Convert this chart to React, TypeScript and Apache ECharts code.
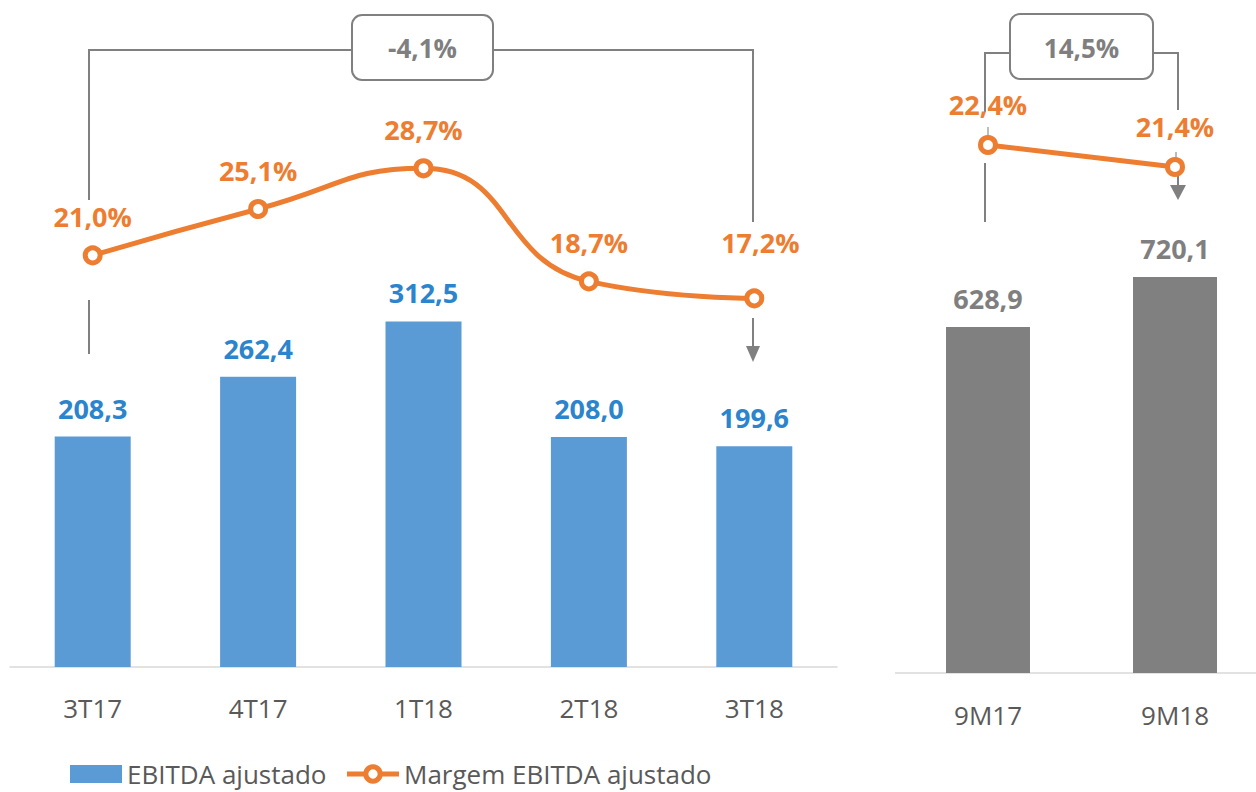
import React, { useEffect, useRef } from "react";
import * as echarts from "echarts";

const quarters = ["3T17", "4T17", "1T18", "2T18", "3T18"];
const ebitdaQ = [208.3, 262.4, 312.5, 208.0, 199.6];
const marginQ = [21.0, 25.1, 28.7, 18.7, 17.2];

const periods = ["9M17", "9M18"];
const ebitdaP = [628.9, 720.1];
const marginP = [22.4, 21.4];

const changeQ = "-4,1%";
const changeP = "14,5%";

const FONT = "'Open Sans', 'Noto Sans', sans-serif";
const BLUE = "#5B9BD5";
const BLUE_TXT = "#2B84CC";
const ORANGE = "#ED7D31";
const GRAY = "#808080";
const GRAY_TXT = "#7F7F7F";
const AXIS_TXT = "#595959";
const AXIS_LINE = "#D9D9D9";

const fmt = (v: number) => v.toFixed(1).replace(".", ",");

export default function App() {
  const ref = useRef<HTMLDivElement>(null);
  useEffect(() => {
    if (!ref.current) return;
    const chart = echarts.init(ref.current, undefined, { renderer: "svg" });

    const lineStroke = { stroke: GRAY, lineWidth: 2 };
    const boxText = (x: number, y: number, t: string) => ({
      type: "text",
      x,
      y,
      style: {
        text: t,
        fill: GRAY_TXT,
        font: `bold 26px ${FONT}`,
        textAlign: "center",
        textVerticalAlign: "middle",
      },
      z: 20,
    });

    const marginItems = marginQ.map((v, i) =>
      i === marginQ.length - 1
        ? { value: v, label: { distance: 32, offset: [6, 0] } }
        : v
    );

    const barLabel = (color: string) => ({
      show: true,
      position: "top",
      distance: 15,
      color,
      fontWeight: "bold",
      fontSize: 27,
      fontFamily: FONT,
      formatter: (p: any) => fmt(p.value),
    });
    const pctLabel = (distance: number) => ({
      show: true,
      position: "top",
      distance,
      color: ORANGE,
      fontWeight: "bold",
      fontSize: 27,
      fontFamily: FONT,
      formatter: (p: any) => fmt(Number(p.value)) + "%",
    });

    chart.setOption({
      animation: false,
      textStyle: { fontFamily: FONT },
      grid: [
        { left: 10, width: 827, top: 114, height: 553 },
        { left: 988, right: 81, top: 123, height: 550 },
      ],
      xAxis: [
        {
          type: "category",
          gridIndex: 0,
          data: quarters,
          axisLine: { lineStyle: { color: AXIS_LINE, width: 1.5 } },
          axisTick: { show: false },
          axisLabel: { color: AXIS_TXT, fontSize: 26, margin: 28, fontFamily: FONT },
        },
        {
          type: "category",
          gridIndex: 1,
          data: periods,
          boundaryGap: false,
          axisLine: { show: false },
          axisTick: { show: false },
          axisLabel: { color: AXIS_TXT, fontSize: 26, margin: 29, fontFamily: FONT },
        },
      ],
      yAxis: [
        { type: "value", gridIndex: 0, min: 0, max: 500, show: false, splitLine: { show: false } },
        { type: "value", gridIndex: 0, min: -15.4, max: 33.5, show: false, splitLine: { show: false } },
        { type: "value", gridIndex: 1, min: 0, max: 1000, show: false, splitLine: { show: false } },
        { type: "value", gridIndex: 1, min: -1.6, max: 23.4, show: false, splitLine: { show: false } },
      ],
      legend: {
        left: 70,
        top: 761,
        padding: 0,
        itemWidth: 52,
        itemHeight: 18,
        itemGap: 18,
        data: [
          { name: "EBITDA ajustado", icon: "rect" },
          {
            name: "Margem EBITDA ajustado",
            itemStyle: { color: "#FFFFFF", borderColor: ORANGE, borderWidth: 5 },
            lineStyle: { color: ORANGE, width: 5 },
          },
        ],
        textStyle: { color: AXIS_TXT, fontSize: 26, lineHeight: 26, fontFamily: FONT },
      },
      series: [
        {
          name: "EBITDA ajustado",
          type: "bar",
          xAxisIndex: 0,
          yAxisIndex: 0,
          data: ebitdaQ,
          barWidth: 76,
          itemStyle: { color: BLUE },
          label: barLabel(BLUE_TXT),
        },
        {
          name: "Margem EBITDA ajustado",
          type: "line",
          xAxisIndex: 0,
          yAxisIndex: 1,
          data: marginItems,
          smooth: 0.5,
          symbol: "circle",
          symbolSize: 15,
          lineStyle: { color: ORANGE, width: 5 },
          itemStyle: { color: "#FFFFFF", borderColor: ORANGE, borderWidth: 5 },
          label: pctLabel(15),
          z: 5,
        },
        {
          name: "EBITDA 9M",
          type: "bar",
          xAxisIndex: 1,
          yAxisIndex: 2,
          data: ebitdaP,
          barWidth: 84,
          itemStyle: { color: GRAY },
          label: barLabel(GRAY_TXT),
        },
        {
          name: "Margem 9M",
          type: "line",
          xAxisIndex: 1,
          yAxisIndex: 3,
          data: marginP,
          symbol: "circle",
          symbolSize: 15,
          lineStyle: { color: ORANGE, width: 5 },
          itemStyle: { color: "#FFFFFF", borderColor: ORANGE, borderWidth: 5 },
          label: pctLabel(17),
          z: 5,
        },
      ],
      graphic: [
        // right baseline (category axis line of the 9M panel)
        { type: "line", shape: { x1: 895, y1: 673, x2: 1256, y2: 673 }, style: { stroke: AXIS_LINE, lineWidth: 1.5 } },
        // left bracket
        { type: "polyline", shape: { points: [[89, 200], [89, 50], [352, 50]] }, style: { ...lineStroke, fill: null } },
        { type: "polyline", shape: { points: [[493, 50], [753, 50], [753, 222]] }, style: { ...lineStroke, fill: null } },
        { type: "rect", shape: { x: 352, y: 15, width: 141, height: 65, r: 10 }, style: { stroke: GRAY, lineWidth: 2, fill: "#FFFFFF" }, z: 10 },
        boxText(422.5, 48, changeQ),
        { type: "line", shape: { x1: 89, y1: 300, x2: 89, y2: 354 }, style: lineStroke },
        { type: "line", shape: { x1: 753, y1: 318, x2: 753, y2: 348 }, style: lineStroke },
        { type: "polygon", shape: { points: [[746, 346], [760, 346], [753, 362]] }, style: { fill: GRAY } },
        // right bracket
        { type: "polyline", shape: { points: [[985, 112], [985, 53], [1010, 53]] }, style: { ...lineStroke, fill: null } },
        { type: "polyline", shape: { points: [[1153, 53], [1178, 53], [1178, 110]] }, style: { ...lineStroke, fill: null } },
        { type: "rect", shape: { x: 1010, y: 14, width: 143, height: 65, r: 10 }, style: { stroke: GRAY, lineWidth: 2, fill: "#FFFFFF" }, z: 10 },
        boxText(1081.5, 48, changeP),
        { type: "line", shape: { x1: 988, y1: 127, x2: 988, y2: 140 }, style: { stroke: "#A6A6A6", lineWidth: 1.5 } },
        { type: "line", shape: { x1: 1176, y1: 152, x2: 1176, y2: 165 }, style: { stroke: "#A6A6A6", lineWidth: 1.5 } },
        { type: "line", shape: { x1: 985, y1: 163, x2: 985, y2: 222 }, style: lineStroke },
        { type: "line", shape: { x1: 1178, y1: 170, x2: 1178, y2: 186 }, style: lineStroke },
        { type: "polygon", shape: { points: [[1170, 185], [1186, 185], [1178, 200]] }, style: { fill: GRAY } },
      ],
    });

    return () => chart.dispose();
  }, []);

  return (
    <div
      ref={ref}
      style={{ position: "fixed", left: 0, top: 0, width: 1256, height: 792, background: "#FFFFFF" }}
    />
  );
}
